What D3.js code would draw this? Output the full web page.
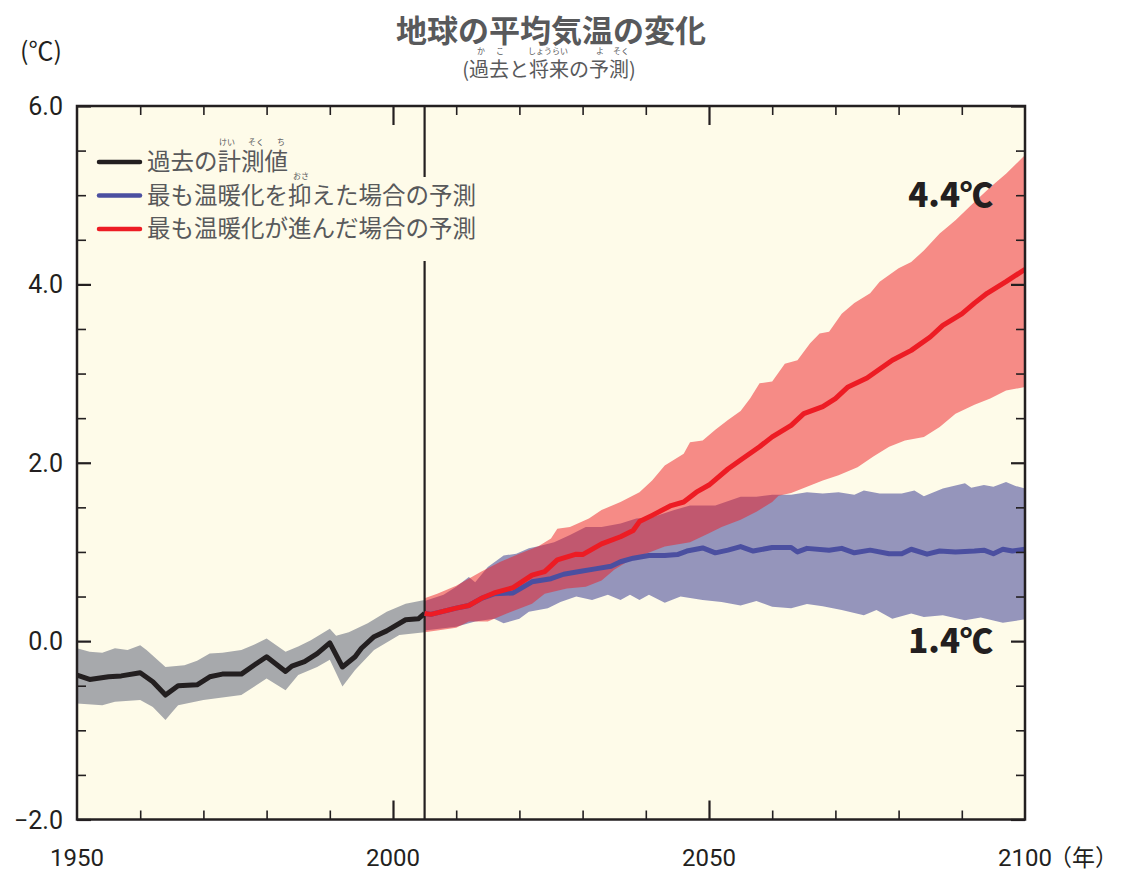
<!DOCTYPE html>
<html>
<head>
<meta charset="utf-8">
<script src="https://cdn.jsdelivr.net/npm/d3@7"></script>
<style>
  body { margin: 0; background: #fff; }
  svg { display: block; }
</style>
</head>
<body>
<div id="chart"></div>
<script>
// 過去の計測値 (1950-2005)
const histYears = [1950, 1952, 1955, 1957, 1960, 1962, 1964, 1966, 1969, 1971, 1973, 1976, 1978, 1980, 1983, 1984, 1986, 1988, 1990, 1992, 1994, 1995, 1997, 1999, 2002, 2004, 2005];
const histMean  = [-0.38, -0.43, -0.40, -0.39, -0.355, -0.455, -0.605, -0.50, -0.49, -0.40, -0.37, -0.37, -0.27, -0.175, -0.34, -0.28, -0.23, -0.14, -0.02, -0.29, -0.175, -0.08, 0.05, 0.115, 0.24, 0.25, 0.31];
const histUpYears = [1950, 1952, 1954, 1956, 1958, 1960, 1961, 1964, 1967, 1969, 1971, 1973, 1976, 1978, 1980, 1983, 1985, 1987, 1990, 1991, 1993, 1996, 1999, 2002, 2005];
const histUp      = [-0.08, -0.12, -0.13, -0.08, -0.10, -0.045, -0.10, -0.29, -0.27, -0.22, -0.14, -0.13, -0.10, -0.04, 0.03, -0.12, -0.06, 0.01, 0.14, 0.06, 0.10, 0.20, 0.33, 0.42, 0.46];
const histLoYears = [1950, 1954, 1956, 1960, 1962, 1964, 1965, 1966, 1970, 1976, 1980, 1983, 1985, 1988, 1990, 1992, 1994, 1997, 2001, 2005];
const histLo      = [-0.70, -0.72, -0.68, -0.66, -0.74, -0.885, -0.80, -0.72, -0.66, -0.605, -0.42, -0.55, -0.38, -0.29, -0.21, -0.51, -0.325, -0.10, 0.07, 0.10];

// 最も温暖化が進んだ場合の予測
const redYears = [2005, 2006, 2010, 2012, 2014, 2016, 2019, 2022, 2024, 2026, 2029, 2030, 2033, 2036, 2038, 2039, 2041, 2044, 2046, 2048, 2050, 2053, 2055, 2058, 2060, 2063, 2065, 2068, 2070, 2072, 2075, 2079, 2082, 2085, 2087, 2090, 2092, 2094, 2097, 2100];
const redMean  = [0.31, 0.30, 0.37, 0.40, 0.48, 0.54, 0.60, 0.74, 0.78, 0.91, 0.975, 0.97, 1.09, 1.17, 1.24, 1.34, 1.41, 1.52, 1.56, 1.67, 1.75, 1.93, 2.03, 2.18, 2.29, 2.42, 2.55, 2.63, 2.72, 2.85, 2.95, 3.15, 3.26, 3.41, 3.54, 3.67, 3.79, 3.90, 4.03, 4.17];
const redUpYears = [2005, 2007, 2010, 2014, 2017, 2020, 2023, 2025, 2026, 2028, 2031, 2033, 2036, 2039, 2041, 2043, 2046, 2047, 2049, 2051, 2053, 2055, 2056.5, 2058, 2060, 2062, 2064, 2066, 2067.5, 2069, 2071, 2073, 2075.5, 2077, 2080, 2082, 2084, 2086.5, 2087.5, 2089, 2092, 2094.5, 2097, 2100];
const redUp      = [0.48, 0.53, 0.62, 0.78, 0.89, 0.98, 1.065, 1.15, 1.26, 1.28, 1.375, 1.47, 1.56, 1.67, 1.80, 1.97, 2.10, 2.23, 2.25, 2.37, 2.48, 2.58, 2.72, 2.89, 2.91, 3.11, 3.15, 3.34, 3.45, 3.47, 3.67, 3.79, 3.90, 4.03, 4.18, 4.25, 4.38, 4.57, 4.63, 4.72, 4.925, 5.09, 5.24, 5.45];
const redLoYears = [2005, 2007, 2010, 2012, 2015, 2018, 2022, 2024, 2027.5, 2030.5, 2033, 2035, 2037.5, 2040, 2043, 2047, 2050, 2052, 2055, 2057.5, 2060, 2061, 2063, 2065.5, 2068, 2070.5, 2073.5, 2076, 2078.5, 2081, 2084, 2086.5, 2089, 2092, 2094.5, 2097, 2100];
const redLo      = [0.10, 0.12, 0.15, 0.22, 0.22, 0.31, 0.42, 0.53, 0.59, 0.61, 0.68, 0.80, 0.91, 0.98, 1.06, 1.11, 1.21, 1.28, 1.36, 1.45, 1.56, 1.63, 1.66, 1.73, 1.80, 1.86, 1.95, 2.07, 2.18, 2.25, 2.29, 2.40, 2.55, 2.65, 2.72, 2.81, 2.85];

// 最も温暖化を抑えた場合の予測
const blueYears = [2005, 2006, 2010, 2012, 2014, 2016, 2019, 2022, 2025, 2027, 2029.5, 2032, 2034.5, 2036, 2038, 2040.5, 2043, 2045, 2046.5, 2049, 2051, 2053, 2055, 2057, 2060, 2063, 2064, 2065.5, 2069, 2071, 2073, 2075.5, 2078.5, 2080.5, 2082, 2084.5, 2086.5, 2089, 2092, 2093.5, 2095, 2096.5, 2098, 2100];
const blueMean  = [0.31, 0.30, 0.37, 0.40, 0.48, 0.53, 0.54, 0.665, 0.70, 0.75, 0.78, 0.81, 0.84, 0.89, 0.93, 0.96, 0.96, 0.97, 1.01, 1.045, 0.99, 1.02, 1.06, 1.01, 1.05, 1.05, 1.00, 1.04, 1.02, 1.04, 0.99, 1.02, 0.98, 0.98, 1.03, 0.975, 1.01, 1.00, 1.01, 1.02, 0.98, 1.03, 1.01, 1.03];
const blueUpYears = [2005, 2008, 2010, 2012, 2013, 2015, 2017.5, 2019.5, 2021.5, 2023, 2025.5, 2028, 2030.5, 2033, 2036, 2038.5, 2041, 2044.5, 2047, 2051, 2055, 2057.5, 2060, 2063, 2065.5, 2068, 2070.5, 2073, 2074.5, 2077, 2080.5, 2082.5, 2084, 2087, 2090.5, 2091.5, 2093.5, 2095, 2097, 2098.5, 2100];
const blueUp      = [0.45, 0.52, 0.61, 0.72, 0.66, 0.83, 0.96, 0.98, 1.04, 1.065, 1.11, 1.19, 1.28, 1.28, 1.32, 1.375, 1.39, 1.47, 1.52, 1.52, 1.62, 1.62, 1.64, 1.64, 1.67, 1.655, 1.67, 1.64, 1.69, 1.655, 1.655, 1.69, 1.625, 1.71, 1.77, 1.72, 1.75, 1.73, 1.785, 1.74, 1.71];
const blueLoYears = [2005, 2010, 2013, 2016, 2017.5, 2020, 2021.5, 2024.5, 2026.5, 2029, 2031.5, 2034, 2036, 2037.5, 2039, 2040.5, 2043, 2045.5, 2049, 2052, 2055, 2057.5, 2060, 2063, 2065.5, 2068, 2071, 2074.5, 2076.5, 2079, 2082, 2084, 2087, 2090.5, 2093, 2096.5, 2100];
const blueLo      = [0.12, 0.16, 0.22, 0.25, 0.20, 0.25, 0.33, 0.37, 0.44, 0.50, 0.46, 0.52, 0.46, 0.52, 0.46, 0.52, 0.43, 0.50, 0.46, 0.44, 0.40, 0.45, 0.385, 0.37, 0.415, 0.39, 0.35, 0.29, 0.35, 0.25, 0.31, 0.27, 0.29, 0.235, 0.265, 0.205, 0.245];

// 目盛り
const xMajor = [2000, 2050];
const xMinor = [1960, 1970, 1980, 1990, 2010, 2020, 2030, 2040, 2060, 2070, 2080, 2090];
const xLabels = [1950, 2000, 2050, 2100];
const yMajor = [-2, 0, 2, 4, 6];
const yMinor = [-1.5, -1, -0.5, 0.5, 1, 1.5, 2.5, 3, 3.5, 4.5, 5, 5.5];
const splitYear = 2005;

const legendLabels = ['過去の計測値', '最も温暖化を抑えた場合の予測', '最も温暖化が進んだ場合の予測'];
const legendColors = ['#231f20', '#4b4fa0', '#ed1c24'];

const W = 1121, H = 873;
const JP = "'Noto Sans CJK JP', 'Noto Sans', sans-serif";
const NUM = "Roboto, 'Liberation Sans', sans-serif";
const INK = '#231f20', GREY_TXT = '#58595b';

const x = d3.scaleLinear().domain([1950, 2100]).range([77, 1025]);
const y = d3.scaleLinear().domain([-2, 6]).range([819.5, 106]);

const svg = d3.select('#chart').append('svg')
    .attr('width', W)
    .attr('height', H);

svg.append('defs').append('clipPath').attr('id', 'plot')
  .append('rect')
    .attr('x', x(1950)).attr('y', y(6))
    .attr('width', x(2100) - x(1950)).attr('height', y(-2) - y(6));

// 背景
svg.append('rect')
    .attr('x', x(1950)).attr('y', y(6))
    .attr('width', x(2100) - x(1950)).attr('height', y(-2) - y(6))
    .attr('fill', '#fefbe9');

const line = d3.line().x(d => x(d[0])).y(d => y(d[1])).curve(d3.curveLinear);
const pairs = (ys, vs) => ys.map((t, i) => [t, vs[i]]);
const band = (uy, uv, ly, lv) => line(pairs(uy, uv).concat(pairs(ly, lv).reverse())) + 'Z';

const g = svg.append('g').attr('clip-path', 'url(#plot)');

g.append('path').attr('d', band(histUpYears, histUp, histLoYears, histLo)).attr('fill', '#a7a9ac');
g.append('path').attr('d', band(blueUpYears, blueUp, blueLoYears, blueLo)).attr('fill', '#9595bb');
g.append('path').attr('d', band(redUpYears, redUp, redLoYears, redLo)).attr('fill', '#ed1c24').attr('fill-opacity', 0.5);

// 2005年の区切り線
g.append('line')
    .attr('x1', x(splitYear)).attr('x2', x(splitYear))
    .attr('y1', y(6)).attr('y2', y(-2))
    .attr('stroke', INK).attr('stroke-width', 2.2);

const series = [
  [histYears, histMean, legendColors[0]],
  [blueYears, blueMean, legendColors[1]],
  [redYears, redMean, legendColors[2]]
];
series.forEach(([ys, vs, c]) => {
  g.append('path')
      .attr('d', line(pairs(ys, vs)))
      .attr('fill', 'none')
      .attr('stroke', c)
      .attr('stroke-width', 5)
      .attr('stroke-linejoin', 'round');
});

// 目盛り (内向き)
function ticks(axis, pos, vals, size) {
  const a = svg.append('g').attr('transform', pos)
      .call(axis.tickValues(vals).tickSize(-size).tickFormat(''));
  a.select('.domain').remove();
  a.selectAll('line').attr('stroke', INK).attr('stroke-width', size > 10 ? 2.2 : 1.6);
}
ticks(d3.axisBottom(x), `translate(0,${y(-2)})`, xMinor, 9);
ticks(d3.axisBottom(x), `translate(0,${y(-2)})`, xMajor, 19);
ticks(d3.axisTop(x), `translate(0,${y(6)})`, xMinor, 9);
ticks(d3.axisTop(x), `translate(0,${y(6)})`, xMajor, 19);
ticks(d3.axisLeft(y), `translate(${x(1950)},0)`, yMinor, 9);
ticks(d3.axisLeft(y), `translate(${x(1950)},0)`, yMajor, 14);
ticks(d3.axisRight(y), `translate(${x(2100)},0)`, yMinor, 9);
ticks(d3.axisRight(y), `translate(${x(2100)},0)`, yMajor, 14);

// 枠
svg.append('rect')
    .attr('x', x(1950)).attr('y', y(6))
    .attr('width', x(2100) - x(1950)).attr('height', y(-2) - y(6))
    .attr('fill', 'none').attr('stroke', INK).attr('stroke-width', 2.5);

// 軸ラベル
svg.append('g').selectAll('text')
  .data(yMajor).join('text')
    .attr('x', 63).attr('y', d => y(d)).attr('dy', '0.36em')
    .attr('text-anchor', 'end')
    .attr('font-family', NUM).attr('font-size', 25).attr('fill', INK)
    .text(d => (d < 0 ? '\u2212' : '') + Math.abs(d).toFixed(1));

svg.append('g').selectAll('text')
  .data(xLabels).join('text')
    .attr('x', d => x(d)).attr('y', 866)
    .attr('text-anchor', 'middle')
    .attr('font-family', NUM).attr('font-size', 24).attr('fill', INK)
    .text(d => d);

svg.append('text').attr('x', 1049).attr('y', 866)
    .attr('font-family', JP).attr('font-size', 23).attr('fill', INK)
    .text('（年）');

svg.append('text').attr('x', 20).attr('y', 60)
    .attr('font-family', JP).attr('font-size', 25).attr('fill', INK)
    .text('(℃)');

// タイトル
svg.append('text').attr('x', 551).attr('y', 42)
    .attr('text-anchor', 'middle')
    .attr('font-family', JP).attr('font-size', 31).attr('font-weight', 700).attr('fill', GREY_TXT)
    .text('地球の平均気温の変化');
svg.append('text').attr('x', 549).attr('y', 77)
    .attr('text-anchor', 'middle')
    .attr('font-family', JP).attr('font-size', 20).attr('fill', GREY_TXT)
    .text('(過去と将来の予測)');

const ruby = (txt, cx, cy) => svg.append('text')
    .attr('x', cx).attr('y', cy).attr('text-anchor', 'middle')
    .attr('font-family', JP).attr('font-size', 8).attr('fill', GREY_TXT)
    .text(txt);
ruby('か', 481, 54); ruby('こ', 500, 54);
ruby('しょうらい', 548, 54);
ruby('よ', 600, 54); ruby('そく', 621, 54);

// 凡例
svg.append('rect')
    .attr('x', 90).attr('y', 177).attr('width', 392).attr('height', 84)
    .attr('fill', '#fefbe9');
const leg = svg.append('g').selectAll('g')
  .data(legendLabels).join('g')
    .attr('transform', (d, i) => `translate(0,${162 + i * 33.5})`);
leg.append('line')
    .attr('x1', 99).attr('x2', 140)
    .attr('stroke', (d, i) => legendColors[i])
    .attr('stroke-width', 4.5).attr('stroke-linecap', 'round');
leg.append('text')
    .attr('x', 147).attr('dy', '0.36em')
    .attr('font-family', JP).attr('font-size', 23.5).attr('fill', GREY_TXT)
    .text(d => d);
ruby('けい', 227, 145); ruby('そく', 256, 145); ruby('ち', 281, 145);
ruby('おさ', 301, 179);

// 2100年の値
const endLabels = [[4.4, 5.0], [1.4, 0.0]];
svg.append('g').selectAll('text')
  .data(endLabels).join('text')
    .attr('x', 993).attr('y', d => y(d[1])).attr('dy', '0.36em')
    .attr('text-anchor', 'end')
    .attr('font-family', JP).attr('font-size', 33).attr('font-weight', 900).attr('fill', INK)
    .text(d => d[0].toFixed(1) + '℃');
</script>
</body>
</html>
